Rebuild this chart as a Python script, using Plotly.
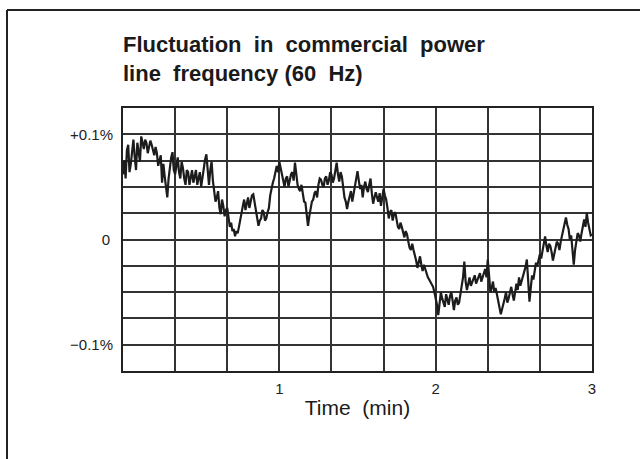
import plotly.graph_objects as go

# Readings taken on whole seconds (s) and deviation in percent
time_whole_s = list(range(0, 181))
dev_whole_pct = [
    0.062, 0.058, 0.090, 0.072, 0.095, 0.066, 0.085, 0.098, 0.086, 0.092,
    0.088, 0.090, 0.080, 0.082, 0.074, 0.054, 0.060, 0.040, 0.070, 0.083,
    0.062, 0.078, 0.058, 0.068, 0.052, 0.064, 0.060, 0.054, 0.066, 0.058,
    0.050, 0.070, 0.081, 0.052, 0.074, 0.045, 0.040, 0.030, 0.038, 0.022,
    0.030, 0.012, 0.008, 0.003, 0.006, 0.020, 0.032, 0.028, 0.040, 0.036,
    0.043, 0.030, 0.013, 0.020, 0.026, 0.020, 0.030, 0.050, 0.058, 0.070,
    0.074, 0.062, 0.050, 0.060, 0.055, 0.064, 0.073, 0.052, 0.046, 0.041,
    0.035, 0.013, 0.030, 0.038, 0.046, 0.052, 0.057, 0.050, 0.060, 0.056,
    0.062, 0.058, 0.073, 0.055, 0.060, 0.040, 0.029, 0.042, 0.036, 0.052,
    0.065, 0.048, 0.040, 0.055, 0.045, 0.058, 0.034, 0.045, 0.036, 0.032,
    0.048, 0.038, 0.020, 0.028, 0.024, 0.018, 0.010, 0.012, 0.002, 0.005,
    -0.008, -0.004, -0.014, -0.027, -0.016, -0.030, -0.028, -0.036, -0.040, -0.045,
    -0.055, -0.072, -0.050, -0.060, -0.052, -0.062, -0.050, -0.067, -0.055, -0.060,
    -0.044, -0.021, -0.048, -0.036, -0.040, -0.034, -0.038, -0.032, -0.036, -0.028,
    -0.019, -0.050, -0.040, -0.046, -0.058, -0.071, -0.062, -0.050, -0.056, -0.045,
    -0.058, -0.042, -0.036, -0.040, -0.030, -0.019, -0.059, -0.034, -0.030, -0.025,
    -0.014, -0.010, 0.003, -0.012, -0.006, -0.020, -0.008, -0.004, -0.002, 0.008,
    0.021, 0.010, 0.004, -0.024, 0.000, 0.004, 0.006, 0.019, 0.025, 0.010,
    0.005,
]
# Readings taken on half seconds (0.5, 1.5, ... 179.5 s)
time_half_s = [t + 0.5 for t in range(0, 180)]
dev_half_pct = [
    0.075, 0.085, 0.064, 0.088, 0.078, 0.092, 0.074, 0.090, 0.095, 0.082,
    0.094, 0.084, 0.088, 0.070, 0.080, 0.072, 0.050, 0.058, 0.078, 0.066,
    0.072, 0.064, 0.074, 0.058, 0.066, 0.052, 0.066, 0.062, 0.052, 0.064,
    0.060, 0.076, 0.062, 0.066, 0.056, 0.036, 0.046, 0.024, 0.032, 0.028,
    0.020, 0.016, 0.010, 0.008, 0.012, 0.026, 0.038, 0.034, 0.030, 0.042,
    0.036, 0.022, 0.018, 0.028, 0.018, 0.026, 0.042, 0.054, 0.064, 0.064,
    0.068, 0.056, 0.058, 0.050, 0.062, 0.056, 0.060, 0.048, 0.052, 0.036,
    0.026, 0.022, 0.036, 0.044, 0.040, 0.058, 0.052, 0.058, 0.052, 0.064,
    0.054, 0.066, 0.062, 0.064, 0.050, 0.036, 0.036, 0.046, 0.044, 0.058,
    0.056, 0.052, 0.050, 0.048, 0.052, 0.044, 0.040, 0.040, 0.044, 0.040,
    0.042, 0.030, 0.026, 0.018, 0.026, 0.012, 0.016, 0.006, 0.008, -0.002,
    -0.010, -0.010, -0.020, -0.022, -0.024, -0.024, -0.034, -0.038, -0.042, -0.050,
    -0.062, -0.058, -0.056, -0.064, -0.056, -0.054, -0.058, -0.058, -0.062, -0.052,
    -0.036, -0.040, -0.040, -0.044, -0.036, -0.042, -0.034, -0.040, -0.032, -0.036,
    -0.034, -0.046, -0.050, -0.052, -0.066, -0.066, -0.056, -0.060, -0.050, -0.052,
    -0.050, -0.048, -0.044, -0.034, -0.026, -0.040, -0.046, -0.038, -0.022, -0.020,
    -0.018, -0.004, -0.006, -0.004, -0.012, -0.014, -0.002, -0.010, 0.004, 0.014,
    0.014, 0.000, -0.010, -0.010, 0.006, -0.002, 0.012, 0.012, 0.016, 0.004,
]

x_tickvals = [0, 1/3, 2/3, 1, 4/3, 5/3, 2, 7/3, 8/3, 3]
x_ticktext = ["", "", "", "1", "", "", "2", "", "", "3"]
y_tickvals = [-0.125, -0.1, -0.075, -0.05, -0.025, 0, 0.025, 0.05, 0.075, 0.1, 0.125]
y_ticktext = ["", "\u22120.1%", "", "", "", "0\u2009", "", "", "", "+0.1%", ""]

# merge the two sets of readings in time order
pairs = sorted(list(zip(time_whole_s, dev_whole_pct)) + list(zip(time_half_s, dev_half_pct)))
time_min = [p[0] / 60 for p in pairs]
dev = [p[1] for p in pairs]

FONT = "Liberation Sans, Arial, sans-serif"

fig = go.Figure()
fig.add_trace(go.Scatter(
    x=time_min, y=dev, mode="lines",
    line=dict(color="#1c1c1c", width=2.2), hoverinfo="skip", showlegend=False,
))

axis_common = dict(
    showgrid=True, gridcolor="#333333", gridwidth=2,
    showline=True, linecolor="#222222", linewidth=2, mirror=True,
    zeroline=False, ticks="outside", tickcolor="rgba(0,0,0,0)",
    tickfont=dict(family=FONT, size=15, color="#222222"),
)

fig.update_layout(
    width=644, height=459,
    margin=dict(l=123, r=52, t=108, b=88),
    paper_bgcolor="white", plot_bgcolor="white",
    title=dict(
        text="<b>Fluctuation\u00a0\u00a0in\u00a0\u00a0commercial\u00a0\u00a0power<br>line\u00a0\u00a0frequency\u00a0(60\u00a0\u00a0Hz)</b>",
        x=123/644, xanchor="left", y=1 - 52/459, yanchor="top",
        font=dict(family=FONT, size=22, color="#1a1a1a"),
    ),
    xaxis=dict(
        range=[0, 3], tickvals=x_tickvals, ticktext=x_ticktext, ticklen=3,
        title=dict(text="Time\u00a0\u00a0(min)", standoff=4,
                   font=dict(family=FONT, size=21, color="#1a1a1a")),
        **axis_common,
    ),
    yaxis=dict(
        range=[-0.125, 0.125], tickvals=y_tickvals, ticktext=y_ticktext, ticklen=5,
        **axis_common,
    ),
    shapes=[
        dict(type="line", xref="paper", yref="paper",
             x0=(7 - 123) / 469, x1=(7 - 123) / 469, y0=(371 - 10) / 263, y1=(371 - 470) / 263,
             line=dict(color="#222222", width=2)),
        dict(type="line", xref="paper", yref="paper",
             x0=(7 - 123) / 469, x1=(640 - 123) / 469, y0=(371 - 10) / 263, y1=(371 - 10) / 263,
             line=dict(color="#222222", width=2)),
    ],
)

fig.write_html("out.html", config={"displayModeBar": False},
               post_script="document.body.style.margin='0';")
